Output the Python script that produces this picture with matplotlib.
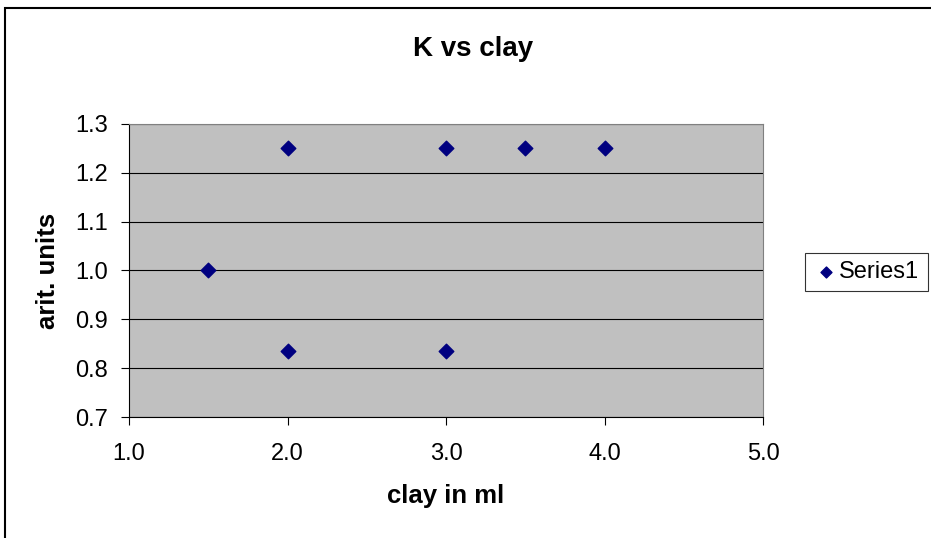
import matplotlib.pyplot as plt
from matplotlib.patches import Rectangle

plt.rcParams['font.family'] = ['Liberation Sans', 'DejaVu Sans']

# clay volume (ml) and K in arbitrary units
clay_ml = [1.5, 2.0, 2.0, 3.0, 3.0, 3.5, 4.0]
k_units = [1.0, 1.25, 0.835, 1.25, 0.835, 1.25, 1.25]
x_ticks = [1.0, 2.0, 3.0, 4.0, 5.0]
y_ticks = [0.7, 0.8, 0.9, 1.0, 1.1, 1.2, 1.3]

W, H = 931, 538
fig = plt.figure(figsize=(W / 100, H / 100), dpi=100)

# outer chart border
fig.patches.append(Rectangle((5 / W, -0.05), 1.1, 1 - 8 / H + 0.05,
                             transform=fig.transFigure, fill=False,
                             edgecolor='black', linewidth=1.5))

ax = fig.add_axes([129 / W, 1 - 417 / H, (763 - 129) / W, (417 - 124) / H])
ax.set_facecolor('#c0c0c0')
ax.scatter(clay_ml, k_units, marker='D', s=55, color='#000080', zorder=3,
           label='Series1', clip_on=False)

ax.set_xlim(1.0, 5.0)
ax.set_ylim(0.7, 1.3)
ax.set_xticks(x_ticks)
ax.set_yticks(y_ticks)
ax.set_xticklabels([f'{v:.1f}' for v in x_ticks])
ax.set_yticklabels([f'{v:.1f}' for v in y_ticks])
ax.grid(axis='y', color='black', linewidth=0.8)
ax.set_axisbelow(True)

ax.tick_params(direction='out', length=6, width=0.8, labelsize=17)
ax.tick_params(axis='y', pad=9)
ax.tick_params(axis='x', pad=13)
for side in ('top', 'right'):
    ax.spines[side].set_color('#808080')
for side in ('left', 'bottom'):
    ax.spines[side].set_color('black')

fig.text(473 / W, 1 - 49 / H, 'K vs clay', fontsize=20, fontweight='bold',
         ha='center', va='center')
ax.set_xlabel('clay in ml', fontsize=18.5, fontweight='bold', va='center')
ax.xaxis.set_label_coords(0.5, (417 - 496) / (417 - 124))
ax.set_ylabel('arit. units', fontsize=18.5, fontweight='bold', va='center')
ax.yaxis.set_label_coords((48 - 129) / (763 - 129), 0.5)

leg = ax.legend(loc='center left', bbox_to_anchor=(805 / W, 1 - 272 / H),
                bbox_transform=fig.transFigure, frameon=True, fancybox=False,
                fontsize=17, handletextpad=0.0, borderpad=0.35,
                handlelength=1.1, markerscale=0.75, borderaxespad=0)
leg.get_frame().set_edgecolor('black')
leg.get_frame().set_linewidth(0.8)

fig.savefig('out.png', dpi=100)
